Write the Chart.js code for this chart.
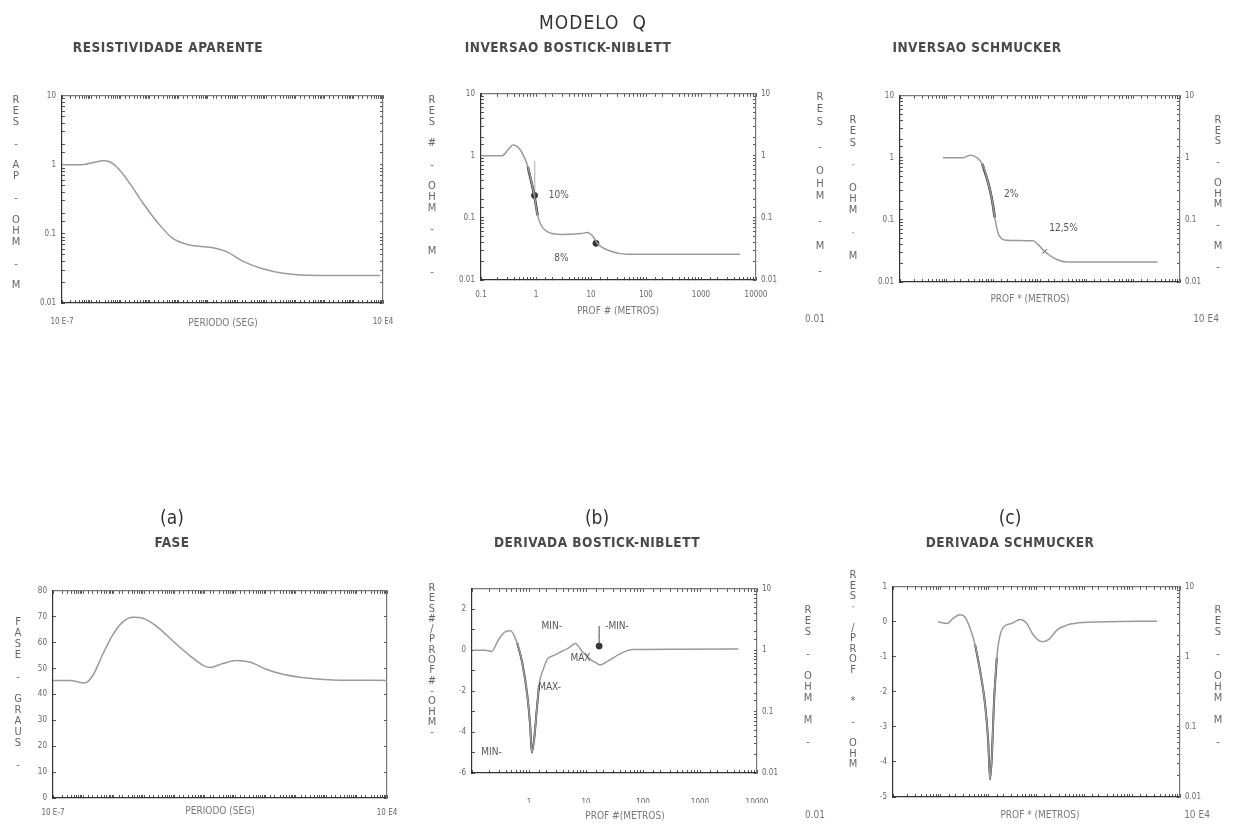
<!DOCTYPE html>
<html>
<head>
<meta charset="utf-8">
<script src="https://cdn.jsdelivr.net/npm/chart.js@4.4.1/dist/chart.umd.min.js"></script>
<style>
body { margin: 0; background: #fff; width: 1235px; height: 827px; position: relative; overflow: hidden;
       font-family: "DejaVu Sans Condensed", "DejaVu Sans", sans-serif; color: #3a3a3a; }
.t { position: absolute; transform: translate(-50%, -50%); white-space: nowrap; filter: grayscale(1); }
.head { font-size: 13.5px; font-weight: bold; color: #4a4a4a; letter-spacing: 0.5px; }
.big { font-size: 19px; color: #333; }
.lab { font-size: 10px; color: #777; }
.v { position: absolute; font-size: 11px; color: #666; width: 12px; text-align: center;
     transform: translateX(-50%); white-space: pre; filter: grayscale(1); }
canvas { position: absolute; }
</style>
</head>
<body>
<div class="t big" style="left:593px;top:22px;letter-spacing:1px">MODELO&nbsp;&nbsp;Q</div>
<div class="t head" style="left:168px;top:47px">RESISTIVIDADE APARENTE</div>
<div class="t head" style="left:568px;top:47px">INVERSAO BOSTICK-NIBLETT</div>
<div class="t head" style="left:977px;top:47px">INVERSAO SCHMUCKER</div>
<div class="t big" style="left:172px;top:517px">(a)</div>
<div class="t head" style="left:172px;top:542px">FASE</div>
<div class="t big" style="left:597px;top:517px">(b)</div>
<div class="t head" style="left:597px;top:542px">DERIVADA BOSTICK-NIBLETT</div>
<div class="t big" style="left:1010px;top:517px">(c)</div>
<div class="t head" style="left:1010px;top:542px">DERIVADA SCHMUCKER</div>

<div class="v" data-lh="10.9" style="left:16px;top:95px">RES - AP - OHM - M</div>
<div class="v" data-lh="10.75" style="left:432px;top:95px">RES # - OHM - M -</div>
<div class="v" data-lh="12.4" style="left:820px;top:91px">RES - OHM - M -</div>
<div class="v" data-lh="11.3" style="left:853px;top:114px">RES · OHM · M</div>
<div class="v" data-lh="10.5" style="left:1218px;top:115px">RES - OHM - M -</div>
<div class="v" data-lh="11" style="left:18px;top:616px">FASE - GRAUS -</div>
<div class="v" data-lh="10.3" style="left:432px;top:583px">RES#/PROF#-OHM-</div>
<div class="v" data-lh="11" style="left:808px;top:604px">RES - OHM M -</div>
<div class="v" data-lh="10.5" style="left:853px;top:570px">RES· /PROF  * - OHM</div>
<div class="v" data-lh="11" style="left:1218px;top:604px">RES - OHM M -</div>

<div class="t lab" style="left:223px;top:322px">PERIODO (SEG)</div>
<div class="t lab" style="left:618px;top:310px">PROF # (METROS)</div>
<div class="t lab" style="left:1030px;top:298px">PROF * (METROS)</div>
<div class="t lab" style="left:815px;top:318px">0.01</div>
<div class="t lab" style="left:1206px;top:318px">10 E4</div>
<div class="t lab" style="left:220px;top:810px">PERIODO (SEG)</div>
<div class="t lab" style="left:625px;top:815px">PROF #(METROS)</div>
<div class="t lab" style="left:1040px;top:814px">PROF * (METROS)</div>
<div class="t lab" style="left:815px;top:814px">0.01</div>
<div class="t lab" style="left:1197px;top:814px">10 E4</div>

<canvas id="cRes"></canvas>
<canvas id="cBN"></canvas>
<canvas id="cSch"></canvas>
<canvas id="cFase"></canvas>
<canvas id="cDBN"></canvas>
<canvas id="cDSch"></canvas>

<script>
// resistividade aparente x periodo
const resPeriod = [1e-7, 4.2e-7, 1.2e-6, 2.5e-6, 4.5e-6, 7.6e-6, 2.1e-5, 5.9e-5, 1.8e-4, 6.3e-4,
                   2.4e-3, 1.2e-2, 4.5e-2, 0.16, 0.8, 3.7, 54, 8000];
const resApp = [1.0, 1.0, 1.08, 1.15, 1.1, 0.93, 0.54, 0.28, 0.15, 0.086,
                0.069, 0.064, 0.055, 0.04, 0.031, 0.027, 0.025, 0.025];

// inversao bostick-niblett
const bnDepth = [0.1, 0.24, 0.32, 0.38, 0.5, 0.71, 0.93, 1.07, 1.6, 2.9, 6.6, 8.5, 11.5, 13, 23, 46, 5100];
const bnRes = [1.0, 1.0, 1.3, 1.5, 1.3, 0.67, 0.23, 0.11, 0.06, 0.054, 0.056, 0.058, 0.047, 0.039, 0.029, 0.026, 0.026];
const bnMarkX = [0.94, 12.3];
const bnMarkY = [0.23, 0.039];
const bnBarX = [0.95, 0.95];
const bnBarY = [0.2, 0.83];
const bnNotes = [{ x: 2.6, y: 0.23, text: '10%' }, { x: 2.9, y: 0.022, text: '8%' }];

// inversao schmucker
const schDepth = [0.083, 0.22, 0.32, 0.45, 0.58, 0.78, 0.95, 1.07, 1.3, 1.95, 7.1, 9.1, 12.6, 23, 38, 3300];
const schRes = [1.0, 1.0, 1.1, 1.0, 0.8, 0.39, 0.2, 0.11, 0.058, 0.047, 0.046, 0.04, 0.031, 0.023, 0.021, 0.021];
const schMarkX = [12.6];
const schMarkY = [0.031];
const schNotes = [{ x: 2.4, y: 0.26, text: '2%' }, { x: 32, y: 0.072, text: '12,5%' }];

// fase
const fasePeriod = [1e-7, 3.6e-7, 1.1e-6, 2.1e-6, 4.4e-6, 9.3e-6, 2e-5, 4.3e-5, 9.1e-5, 2.6e-4, 8.9e-4,
                    3.2e-3, 8.5e-3, 1.45e-2, 3.9e-2, 0.11, 0.3, 1.1, 3.7, 13.5, 162, 1e4];
const faseDeg = [45.4, 45.4, 44.4, 47.5, 55.6, 63, 68, 69.8, 69.4, 66.3, 60.6,
                 55, 51.3, 50.4, 51.9, 53.1, 52.5, 49.6, 47.75, 46.6, 45.6, 45.4];

// derivada bostick-niblett
const dbnDepth = [0.105, 0.17, 0.22, 0.29, 0.38, 0.47, 0.62, 0.76, 0.93, 1.05, 1.12, 1.23, 1.38, 1.5,
                  1.8, 2.1, 2.6, 3.8, 4.9, 6.5, 8.5, 11, 14.5, 17.8, 24.5, 43, 65, 4700];
const dbnVal = [0, 0, -0.06, 0.5, 0.9, 0.95, 0.35, -0.6, -2.16, -3.7, -5.0, -4.36, -2.8, -1.7,
                -0.9, -0.44, -0.28, -0.05, 0.1, 0.33, -0.05, -0.36, -0.6, -0.72, -0.52, -0.13, 0.03, 0.06];
const dbnArrowX = [17, 17];
const dbnArrowY = [1.18, 0.2];
const dbnNotes = [
  { x: 2.5, y: 1.18, text: 'MIN-' }, { x: 35, y: 1.18, text: '-MIN-' },
  { x: 2.3, y: -1.84, text: 'MAX-' }, { x: 8, y: -0.38, text: 'MAX' },
  { x: 0.22, y: -5.0, text: 'MIN-' }
];

// derivada schmucker
const dschDepth = [0.087, 0.135, 0.18, 0.25, 0.32, 0.41, 0.52, 0.66, 0.85, 0.98, 1.07, 1.17, 1.29, 1.48,
                   1.74, 2.2, 3.0, 4.6, 6.3, 8.5, 13.2, 17.8, 27, 44, 95, 3300];
const dschVal = [0, -0.05, 0.1, 0.2, 0.14, -0.19, -0.65, -1.39, -2.41, -3.43, -4.5, -3.8, -2.31, -1.02,
                 -0.37, -0.11, -0.05, 0.07, -0.05, -0.37, -0.57, -0.51, -0.23, -0.09, -0.02, 0.02];

const LINE = '#9a9a9a';
const DARK = '#2e2e2e';
const FONT = { family: '"DejaVu Sans Condensed", "DejaVu Sans", sans-serif', size: 8 };

// stacked (upright) axis titles: one letter per line
document.querySelectorAll('.v').forEach(el => {
    el.textContent = el.textContent.split('').join('\n');
    el.style.lineHeight = el.dataset.lh + 'px';
});

function pts(xs, ys) {
    return xs.map((x, i) => ({ x: x, y: ys[i] }));
}

function isPow10(v) {
    const e = Math.log10(v);
    return Math.abs(e - Math.round(e)) < 1e-6;
}

function curve(data, color, width) {
    return {
        data: data, borderColor: color, borderWidth: width, pointRadius: 0,
        cubicInterpolationMode: 'monotone', fill: false
    };
}

function dots(data, style) {
    return {
        data: data, showLine: false, pointRadius: 3, pointStyle: style || 'circle',
        pointBackgroundColor: '#333', pointBorderColor: '#333'
    };
}

const notesPlugin = {
    id: 'notes',
    afterDatasetsDraw(chart, args, opts) {
        const items = opts.items || [];
        const ctx = chart.ctx;
        ctx.save();
        ctx.font = '10px "DejaVu Sans Condensed", "DejaVu Sans", sans-serif';
        ctx.fillStyle = '#555';
        ctx.textAlign = 'center';
        ctx.textBaseline = 'middle';
        items.forEach(n => {
            ctx.fillText(n.text, chart.scales.x.getPixelForValue(n.x), chart.scales.y.getPixelForValue(n.y));
        });
        ctx.restore();
    }
};

function logAxis(min, max, labelFn, pad) {
    return {
        type: 'logarithmic', min: min, max: max,
        ticks: {
            display: !!labelFn, autoSkip: false, maxRotation: 0, padding: pad || 8,
            color: '#666', font: FONT,
            callback: v => (labelFn && isPow10(v)) ? labelFn(v) : ''
        },
        grid: { drawOnChartArea: false, tickLength: -3, color: '#555' },
        border: { display: true, color: '#333', width: 1.2 }
    };
}

function linAxis(min, max, step, showLabels, pad) {
    return {
        type: 'linear', min: min, max: max,
        ticks: { display: showLabels, stepSize: step, padding: pad || 8, color: '#666', font: FONT },
        grid: { drawOnChartArea: false, tickLength: -3, color: '#555' },
        border: { display: true, color: '#333', width: 1.2 }
    };
}

function panel(id, box, scales, datasets, notes) {
    const padL = 40, padR = 40, padT = 8, padB = 30;
    const cv = document.getElementById(id);
    cv.width = box.r - box.l + padL + padR;
    cv.height = box.b - box.t + padT + padB;
    cv.style.left = (box.l - padL) + 'px';
    cv.style.top = (box.t - padT) + 'px';
    scales.x.position = 'bottom';
    scales.x.afterFit = s => { s.height = padB; };
    scales.xt.position = 'top';
    scales.xt.ticks.display = false;
    scales.xt.border.color = '#777';
    scales.xt.afterFit = s => { s.height = padT; };
    scales.y.position = 'left';
    scales.y.afterFit = s => { s.width = padL; };
    scales.y2.position = 'right';
    scales.y2.border.color = '#777';
    scales.y2.afterFit = s => { s.width = padR; };
    return new Chart(cv, {
        type: 'line',
        data: { datasets: datasets },
        options: {
            responsive: false, animation: false, devicePixelRatio: 1,
            layout: { padding: 0 },
            plugins: { legend: { display: false }, tooltip: { enabled: false }, notes: { items: notes || [] } },
            scales: scales
        },
        plugins: [notesPlugin]
    });
}

const powLabel = v => String(v);
const periodLabel = v => v < 1e-6 ? '10 E-7' : (v > 1e3 ? '10 E4' : '');

panel('cRes', { l: 62, t: 90, r: 383, b: 303 }, {
    x: logAxis(1e-7, 1e4, periodLabel, 17),
    xt: logAxis(1e-7, 1e4),
    y: logAxis(0.01, 10, powLabel, 9),
    y2: logAxis(0.01, 10)
}, [curve(pts(resPeriod, resApp), LINE, 1.5)]);

panel('cBN', { l: 481, t: 88, r: 756, b: 280 }, {
    x: logAxis(0.1, 10000, powLabel, 13),
    xt: logAxis(0.1, 10000),
    y: logAxis(0.01, 10, powLabel, 9),
    y2: logAxis(0.01, 10, powLabel, 8)
}, [
    curve(pts(bnDepth, bnRes), LINE, 1.5),
    curve(pts(bnDepth.slice(5, 8), bnRes.slice(5, 8)), DARK, 2.5),
    curve(pts(bnBarX, bnBarY), '#aaa', 1),
    dots(pts(bnMarkX, bnMarkY))
], bnNotes);

panel('cSch', { l: 900, t: 90, r: 1180, b: 282 }, {
    x: logAxis(0.01, 10000),
    xt: logAxis(0.01, 10000),
    y: logAxis(0.01, 10, powLabel, 9),
    y2: logAxis(0.01, 10, powLabel, 8)
}, [
    curve(pts(schDepth, schRes), LINE, 1.5),
    curve(pts(schDepth.slice(4, 8), schRes.slice(4, 8)), DARK, 2.5),
    dots(pts(schMarkX, schMarkY), 'crossRot')
], schNotes);

panel('cFase', { l: 53, t: 585, r: 387, b: 798 }, {
    x: logAxis(1e-7, 1e4, periodLabel, 13),
    xt: logAxis(1e-7, 1e4),
    y: linAxis(0, 80, 10, true, 9),
    y2: linAxis(0, 80, 10, false)
}, [curve(pts(fasePeriod, faseDeg), LINE, 1.5)]);

panel('cDBN', { l: 472, t: 583, r: 757, b: 773 }, {
    x: logAxis(0.1, 10000, v => v < 0.5 ? '' : String(v), 28),
    xt: logAxis(0.1, 10000),
    y: Object.assign(linAxis(-6, 3, 1, true, 9), { ticks: { padding: 9, color: '#666', font: FONT, stepSize: 1, callback: v => v % 2 === 0 ? String(v) : '' } }),
    y2: logAxis(0.01, 10, powLabel, 8)
}, [
    curve(pts(dbnDepth, dbnVal), LINE, 1.5),
    curve(pts(dbnDepth.slice(6, 14), dbnVal.slice(6, 14)), DARK, 2),
    curve(pts(dbnArrowX, dbnArrowY), '#444', 1),
    dots(pts(dbnArrowX.slice(1), dbnArrowY.slice(1)))
], dbnNotes);

panel('cDSch', { l: 893, t: 581, r: 1180, b: 797 }, {
    x: logAxis(0.01, 10000),
    xt: logAxis(0.01, 10000),
    y: linAxis(-5, 1, 1, true, 9),
    y2: logAxis(0.01, 10, powLabel, 8)
}, [
    curve(pts(dschDepth, dschVal), LINE, 1.5),
    curve(pts(dschDepth.slice(6, 14), dschVal.slice(6, 14)), DARK, 2)
]);
</script>
</body>
</html>
